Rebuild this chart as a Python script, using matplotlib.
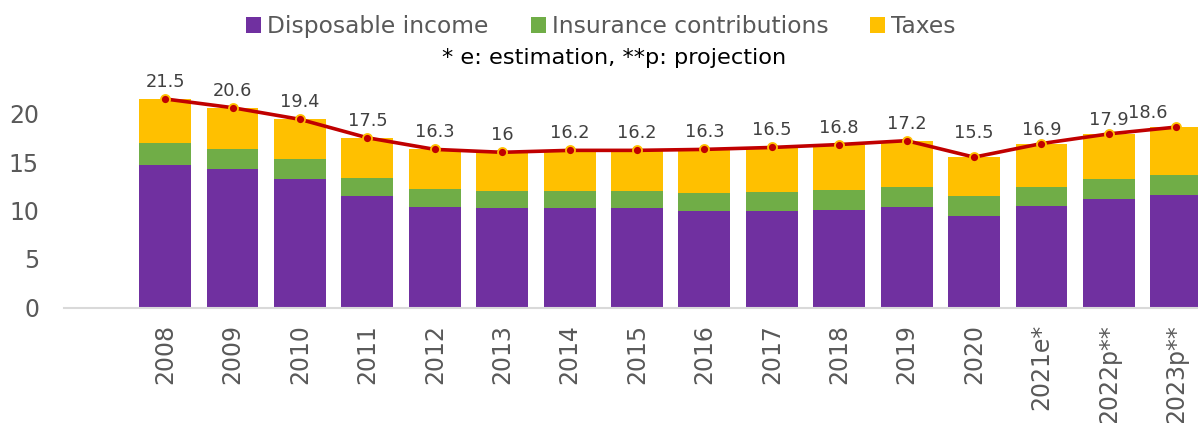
'''Stacked bars of the tax wedge components with the total as a line.'''
import matplotlib
matplotlib.use('Agg')
import matplotlib.pyplot as plt
import numpy as np

years = ['2008', '2009', '2010', '2011', '2012', '2013', '2014', '2015',
         '2016', '2017', '2018', '2019', '2020', '2021e*', '2022p**', '2023p**']
disposable = [14.7, 14.25, 13.2, 11.5, 10.4, 10.25, 10.25, 10.25,
              9.95, 9.95, 10.1, 10.35, 9.45, 10.5, 11.15, 11.6]
insurance = [2.3, 2.05, 2.1, 1.9, 1.8, 1.75, 1.75, 1.75,
             1.85, 1.95, 2.0, 2.1, 2.05, 1.95, 2.05, 2.05]
total = [21.5, 20.6, 19.4, 17.5, 16.3, 16, 16.2, 16.2,
         16.3, 16.5, 16.8, 17.2, 15.5, 16.9, 17.9, 18.6]
taxes = [t - d - i for t, d, i in zip(total, disposable, insurance)]

PURPLE = '#7030A0'
GREEN = '#70AD47'
YELLOW = '#FFC000'
RED = '#C00000'
GREY = '#595959'

fig = plt.figure(figsize=(11.98, 4.23), dpi=100)
ax = fig.add_axes([64 / 1198, 115.5 / 423, 1146 / 1198, 242.5 / 423])

x = np.arange(len(years))
w = 0.77
ax.bar(x, disposable, w, color=PURPLE, label='Disposable income')
ax.bar(x, insurance, w, bottom=disposable, color=GREEN,
       label='Insurance contributions')
ax.bar(x, taxes, w, bottom=np.add(disposable, insurance), color=YELLOW,
       label='Taxes')
ax.plot(x, total, color=RED, linewidth=2.6, marker='o', markersize=6.5,
        markerfacecolor=RED, markeredgecolor=YELLOW, markeredgewidth=1.3,
        zorder=3)

# label offsets in pixels, tweaked where the reference moves them
dx = {15: -29}
dy = {12: 24, 13: 14, 14: 14, 15: 14}
for i, v in enumerate(total):
    ax.annotate(f'{v:g}', (x[i], v),
                xytext=(dx.get(i, 0) * 0.72, dy.get(i, 17) * 0.72),
                textcoords='offset points', ha='center', va='center',
                fontsize=12.8, color='#404040')

ax.set_xlim(-1.5, 15.5)
ax.set_ylim(0, 25)
ax.set_yticks([0, 5, 10, 15, 20])
ax.set_xticks(x)
ax.set_xticklabels(years, rotation=90, va='top')
ax.tick_params(axis='both', length=0, labelsize=17, labelcolor=GREY)
ax.tick_params(axis='x', pad=12)
ax.tick_params(axis='y', pad=18)
for side in ['top', 'right', 'left']:
    ax.spines[side].set_visible(False)
ax.spines['bottom'].set_color('#D9D9D9')
ax.spines['bottom'].set_linewidth(1.5)

handles, labels = ax.get_legend_handles_labels()
leg = fig.legend(handles, labels, ncol=3, loc='center',
                 bbox_to_anchor=(601 / 1198, 1 - 26.5 / 423), frameon=False,
                 prop={'size': 16.8},
                 handlelength=0.64, handleheight=0.64, handletextpad=0.26,
                 columnspacing=1.8, borderpad=0)
for t in leg.get_texts():
    t.set_color(GREY)

fig.text(614 / 1198, 1 - 58 / 423, '* e: estimation, **p: projection',
         ha='center', va='center', fontsize=16.2, color='black')

plt.savefig('out.png', dpi=100)
